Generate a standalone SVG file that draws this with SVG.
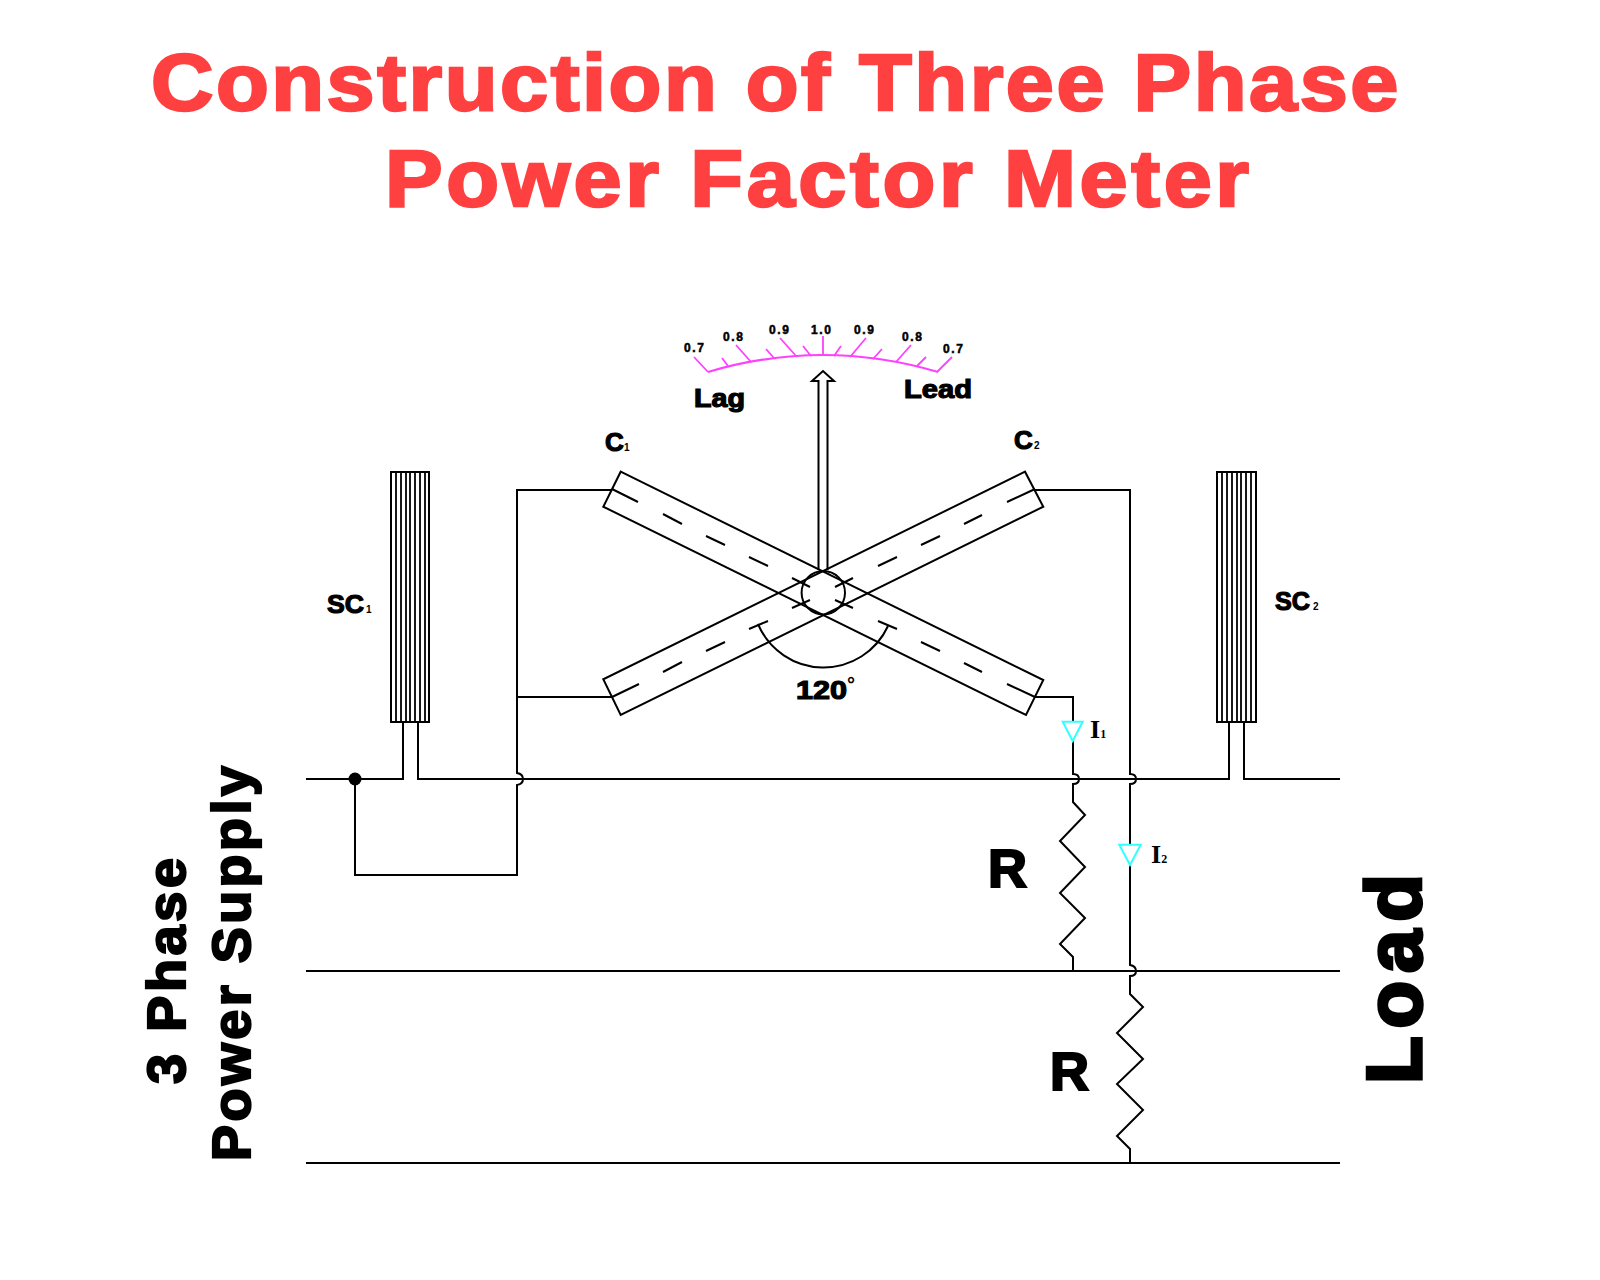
<svg xmlns="http://www.w3.org/2000/svg" width="1600" height="1280" viewBox="0 0 1600 1280">
<style>
.w{fill:none;stroke:#000;stroke-width:2}
.t{font-family:"Liberation Sans",Arial,sans-serif;font-weight:700;fill:#000;stroke:#000;stroke-width:1.2}
.b{font-family:"Liberation Sans",Arial,sans-serif;font-weight:700;fill:#000;stroke:#000;stroke-width:2.2}
.u{font-family:"Liberation Sans",Arial,sans-serif;font-weight:700;fill:#000;font-size:10px}
.title{font-family:"Liberation Sans",Arial,sans-serif;font-weight:700;fill:#ff4040;stroke:#ff4040;stroke-width:2.5;font-size:80px}
.s{font-family:"Liberation Serif","Times New Roman",serif;font-weight:700;fill:#000}
.m{fill:none;stroke:#ff40ff;stroke-width:1.8}
.n{font-family:"Liberation Sans",Arial,sans-serif;font-weight:700;font-size:12px;fill:#000;stroke:#000;stroke-width:.5}
.c{fill:#fff;stroke:#33ffff;stroke-width:2}
</style>
<rect width="1600" height="1280" fill="#fff"/>
<g id="title">
<text class="title" transform="translate(151 110) scale(1.08 1)" textLength="1155" lengthAdjust="spacing">Construction of Three Phase</text>
<text class="title" transform="translate(385 206) scale(1.08 1)" textLength="800" lengthAdjust="spacing">Power Factor Meter</text>
</g>
<g id="connectors" class="w">
<path d="M306 779H403V722M418 722V779H1229V722M1244 722V779H1340"/>
<path d="M306 971H1340"/>
<path d="M306 1163H1340"/>
<path d="M612 490H517V773q6 1 6 6t-6 6V875H355V779"/>
<path d="M517 697H612"/>
<path d="M1035 490H1130V774q6 0 6 5t-6 5V965q6 1 6 6t-6 5V994L1143 1007 1117 1033 1143 1059 1117 1084 1143 1110 1117 1136 1130 1149V1163"/>
<path d="M1035 697H1073V774q6 0 6 5t-6 5V802L1085 815 1060 841 1085 867 1060 893 1085 918 1060 944 1073 957V971"/>
<circle cx="355" cy="779" r="6.5" fill="#000" stroke="none"/>
</g>
<g id="sc1" class="w">
<rect x="391" y="472" width="38" height="250"/>
<path d="M396 472V722M401 472V722M406 472V722M410 472V722M415 472V722M420 472V722M425 472V722" stroke-width="1.800"/>
</g>
<g id="sc2" class="w">
<rect x="1217" y="472" width="39" height="250"/>
<path d="M1222 472V722M1227 472V722M1232 472V722M1237 472V722M1241 472V722M1246 472V722M1251 472V722" stroke-width="1.800"/>
</g>
<g id="coils" class="w">
<path d="M620.700 471.700L1043.300 680 1026 715 603.300 506.700Z"/>
<path d="M1025 471.700L603.300 679.300 620.700 715 1043.300 506.700Z"/>
<path d="M612 489L638 502M663 514L682 524M706 536L725 545M749 557L768 566M878 621L897 629M921 642L940 651M964 663L982 672M1007 684L1035 697"/>
<path d="M1035 489L1007 502M982 515L964 524M940 536L921 545M897 557L878 566M768 621L749 629M725 642L706 651M682 662L663 672M639 684L612 697"/>
<circle cx="823.300" cy="592.700" r="21.700"/>
<path d="M792 578L810 587M853 578L835 587M792 608L810 600M853 608L835 600"/>
<path d="M758 624A71 71 0 0 0 888 626"/>
</g>
<g id="pointer" class="w">
<path d="M818.500 570V381H812L823 371 834 381H827.500V570"/>
</g>
<g id="scale">
<path class="m" style="stroke-width:2.200" d="M708 372Q823 338 938 372"/>
<path class="m" d="M708 372L694 357M728 366L722 358M751 362L736 345M774 358L766 349M797 357L780 338M811 356L803 346M823 355V336M834 356L841 346M850 357L866 338M873 359L882 349M896 362L911 345M917 366L926 357M937 372L952 357"/>
<text class="n" x="684" y="352" textLength="20" lengthAdjust="spacing">0.7</text>
<text class="n" x="723" y="341" textLength="20" lengthAdjust="spacing">0.8</text>
<text class="n" x="769" y="334" textLength="20" lengthAdjust="spacing">0.9</text>
<text class="n" x="811" y="334" textLength="20" lengthAdjust="spacing">1.0</text>
<text class="n" x="854" y="334" textLength="20" lengthAdjust="spacing">0.9</text>
<text class="n" x="902" y="341" textLength="20" lengthAdjust="spacing">0.8</text>
<text class="n" x="943" y="353" textLength="20" lengthAdjust="spacing">0.7</text>
</g>
<g id="labels">
<text class="t" x="694" y="407" font-size="26" textLength="51" lengthAdjust="spacingAndGlyphs">Lag</text>
<text class="t" x="904" y="398" font-size="26" textLength="68" lengthAdjust="spacingAndGlyphs">Lead</text>
<text class="t" x="605" y="451" font-size="26">C</text><text class="u" x="624" y="451">1</text>
<text class="t" x="1014" y="449" font-size="26">C</text><text class="u" x="1034" y="449">2</text>
<text class="t" x="327" y="613" font-size="26" textLength="37" lengthAdjust="spacingAndGlyphs">SC</text><text class="u" x="366" y="613">1</text>
<text class="t" x="1275" y="610" font-size="26" textLength="35" lengthAdjust="spacingAndGlyphs">SC</text><text class="u" x="1313" y="610">2</text>
<text class="t" x="796" y="699" font-size="26" textLength="51" lengthAdjust="spacingAndGlyphs">120</text>
<text class="u" x="847" y="691" style="font-size:20px">°</text>
<text class="b" x="988" y="887" font-size="54">R</text>
<text class="b" x="1050" y="1090" font-size="54">R</text>
<text class="s" x="1090" y="738" font-size="26">I<tspan font-size="12">1</tspan></text>
<text class="s" x="1151" y="863" font-size="26">I<tspan font-size="12">2</tspan></text>
<text class="b" transform="translate(185 1084) rotate(-90)" font-size="54" textLength="226" lengthAdjust="spacing">3 Phase</text>
<text class="b" transform="translate(250 1161) rotate(-90)" font-size="54" textLength="395" lengthAdjust="spacing">Power Supply</text>
<text class="b" style="stroke-width:3.5" transform="translate(1421 1084) rotate(-90)" font-size="78" textLength="210" lengthAdjust="spacing">Load</text>
</g>
<g id="meters">
<path class="c" d="M1062.700 721.700H1082.700L1072.700 741Z"/>
<path class="c" d="M1119.300 844.700H1140.700L1130 865Z"/>
</g>
</svg>
